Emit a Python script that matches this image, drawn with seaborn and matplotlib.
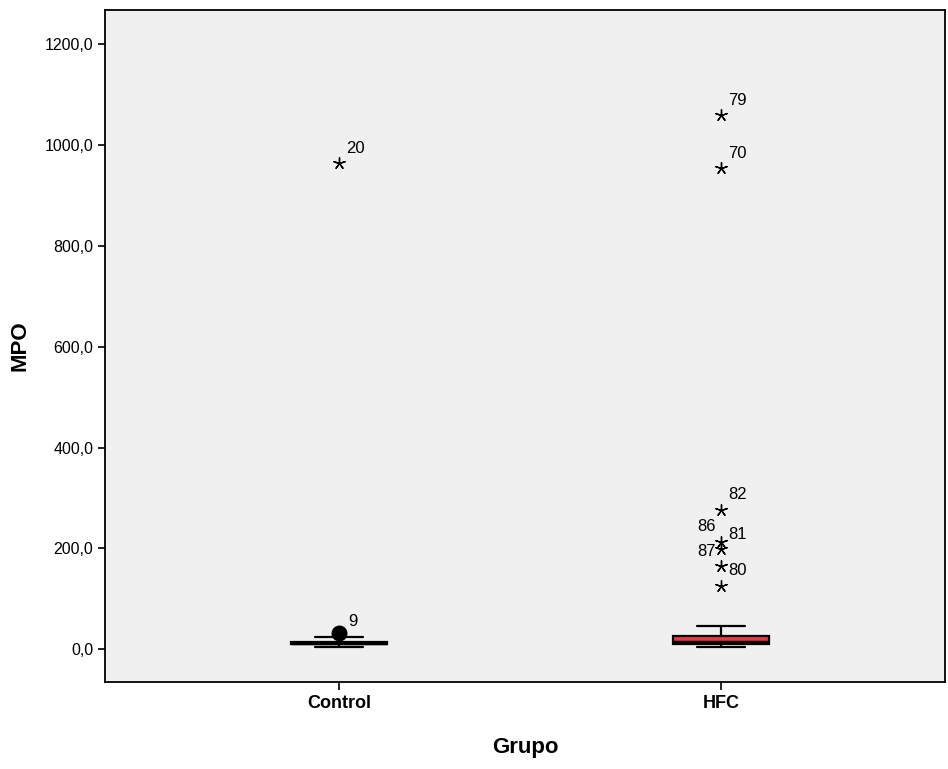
import numpy as np
import pandas as pd
import matplotlib
matplotlib.use("Agg")
import matplotlib.pyplot as plt
import seaborn as sns
from matplotlib.ticker import FuncFormatter

# groups
groups = ["Control", "HFC"]

# values inside the whiskers
control_core = [3.5, 8.0, 9.5, 10.5, 11.0, 12.0, 12.5, 13.0, 14.5, 16.0, 17.5, 24.0]
hfc_core = [4.5, 8.0, 9.5, 10.5, 12.0, 13.0, 14.0, 18.0, 25.5, 27.0, 30.0, 46.0]

# outliers: value, case label, label side
control_out = [31.7, 964.0]
control_out_lab = ["9", "20"]
control_out_kind = ["o", "*"]
control_out_side = ["r", "r"]

hfc_out = [1059.0, 954.0, 277.0, 213.0, 198.0, 165.0, 126.0]
hfc_out_lab = ["79", "70", "82", "86", "81", "87", "80"]
hfc_out_kind = ["*", "*", "*", "*", "*", "*", "*"]
hfc_out_side = ["r", "r", "r", "l", "r", "l", "r"]

df = pd.DataFrame({
    "Grupo": ["Control"] * len(control_core) + ["HFC"] * len(hfc_core),
    "MPO": control_core + hfc_core,
})
out = pd.DataFrame({
    "Grupo": ["Control"] * len(control_out) + ["HFC"] * len(hfc_out),
    "MPO": control_out + hfc_out,
    "lab": control_out_lab + hfc_out_lab,
    "kind": control_out_kind + hfc_out_kind,
    "side": control_out_side + hfc_out_side,
})

sns.set_style("ticks")
plt.rcParams["font.family"] = ["Liberation Sans", "DejaVu Sans"]
plt.rcParams.update({"text.color": "black", "axes.labelcolor": "black",
                     "xtick.color": "black", "ytick.color": "black"})

fig = plt.figure(figsize=(9.48, 7.69), dpi=100)
ax = fig.add_axes([0.1108, 0.1131, 0.8860, 0.8739])
ax.set_facecolor("#F0F0F0")

sns.boxplot(data=df, x="Grupo", y="MPO", order=groups, hue="Grupo",
            palette={"Control": "#222222", "HFC": "#E8393E"}, saturation=1,
            width=0.25, whis=(0, 100), showfliers=False, linecolor="black",
            linewidth=1.6, legend=False, ax=ax,
            whiskerprops={"linewidth": 1.6}, capprops={"linewidth": 1.6},
            medianprops={"linewidth": 2.5, "color": "black"})

pos = {g: i for i, g in enumerate(groups)}
for _, r in out.iterrows():
    x = pos[r["Grupo"]]
    if r["kind"] == "o":
        ax.scatter(x, r["MPO"], s=110, color="black", marker="o", zorder=5)
        off = (9, 12)
    else:
        ax.scatter(x, r["MPO"], s=70, color="black", marker=(5, 2, 0),
                   linewidths=1.0, zorder=5)
        off = (7, 15) if r["side"] == "r" else (-5, 15)
    ha = "left" if r["side"] == "r" else "right"
    ax.annotate(r["lab"], (x, r["MPO"]), xytext=off, textcoords="offset pixels",
                ha=ha, va="center", fontsize=12)

ax.set_xlim(-0.613, 1.586)
ax.set_ylim(-65, 1268)
ax.set_yticks([0, 200, 400, 600, 800, 1000, 1200])
ax.yaxis.set_major_formatter(FuncFormatter(lambda v, p: f"{v:.1f}".replace(".", ",")))
ax.tick_params(axis="y", labelsize=11.5, length=5, width=1.2, color="black")
ax.tick_params(axis="x", labelsize=13, length=6, width=1.2, color="black")
for t in ax.get_xticklabels():
    t.set_fontweight("bold")
for s in ax.spines.values():
    s.set_color("black")
    s.set_linewidth(1.3)

ax.set_xlabel("Grupo", fontsize=16, fontweight="bold", labelpad=18)
ax.set_ylabel("MPO", fontsize=16, fontweight="bold", labelpad=10)

fig.savefig("out.png", dpi=100)
